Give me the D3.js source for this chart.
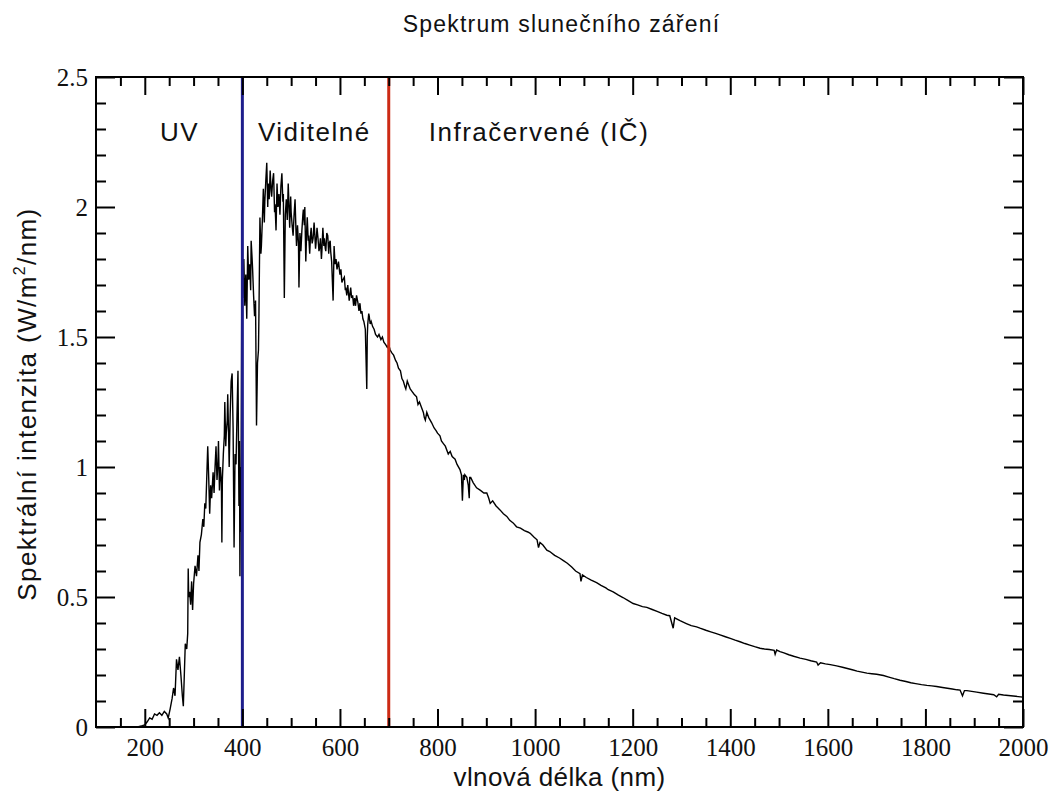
<!DOCTYPE html>
<html>
<head>
<meta charset="utf-8">
<script src="https://cdn.jsdelivr.net/npm/d3@7"></script>
<style>
  html, body { margin: 0; padding: 0; background: #fff; }
  svg { display: block; }
</style>
</head>
<body>
<svg id="chart" width="1056" height="794"></svg>
<script>
// ---------------- DATA ----------------
const titleText = "Spektrum slunečního záření";
const xAxisLabel = "vlnová délka (nm)";
const yAxisLabelMain = "Spektrální intenzita (W/m";
const yAxisLabelSup = "2";
const yAxisLabelEnd = "/nm)";

const xTickValues = [200, 400, 600, 800, 1000, 1200, 1400, 1600, 1800, 2000];
const xTickLabels = ["200", "400", "600", "800", "1000", "1200", "1400", "1600", "1800", "2000"];
const yTickValues = [0, 0.5, 1, 1.5, 2, 2.5];
const yTickLabels = ["0", "0.5", "1", "1.5", "2", "2.5"];

const regionNames = ["UV", "Viditelné", "Infračervené (IČ)"];
const regionLabelStart = [231, 432, 782];   // wavelength (nm) where each label starts
const regionBoundaries = [400, 700];        // nm

const wavelength = [
185,195,200,205,210,215,220,225,230,235,240,245,248,252,256,259,262,265,268,271,274,277,279,281,283,286,288,289,290,292,294,296,298,300,
303,306,309,311,313,316,319,321,323,325,327,329,331,333,335,337,340,342,344,346,348,350,351,353,355,357,358,359,361,363,364,366,367,369,
370,372,373,375,377,379,381,383,385,387,389,391,393,394,395,396,397,
399,401,402,403,405,407,409,411,413,415,417,418,420,421,423,425,427,429,431,433,434,436,438,439,441,443,445,446,448,450,452,453,455,457,
459,460,462,464,466,467,469,471,473,475,477,479,481,483,484,486,488,490,492,494,496,497,499,500,502,504,506,508,510,511,513,515,516,518,
520,522,524,525,527,528,530,532,533,535,536,538,540,541,543,545,547,548,550,551,553,555,557,558,560,562,563,565,567,568,570,571,573,575,
577,578,580,581,583,586,588,590,592,594,597,600,602,604,606,609,611,612,614,616,619,622,624,626,628,630,632,634,637,639,641,643,645,647,
649,652,655,656,657,659,660,662,664,667,670,673,677,680,684,687,690,694,697,700,703,706,710,714,717,720,724,727,730,733,735,738,740,744,
748,752,757,760,763,767,771,773,775,778,782,788,793,797,800,805,808,812,816,822,826,830,836,840,846,849,851,853,855,856,860,863,865,866,
868,873,880,888,895,901,905,908,913,920,928,935,942,948,955,962,970,978,985,990,998,1004,1007,1010,1016,1024,1030,1040,1050,1058,1066,
1075,1083,1092,1094,1097,1105,1115,1126,1135,1145,1150,1160,1170,1180,1190,1201,1210,1220,1229,1240,1250,1260,1270,1276,1283,1286,1297,
1310,1320,1331,1338,1350,1360,1370,1379,1390,1400,1410,1420,1430,1440,1450,1461,1470,1480,1490,1492,1495,1502,1510,1520,1530,1543,1555,
1565,1577,1580,1585,1595,1605,1618,1630,1640,1650,1660,1670,1680,1690,1700,1714,1725,1736,1748,1760,1770,1780,1792,1803,1813,1823,1835,
1845,1855,1865,1871,1876,1880,1885,1895,1905,1919,1930,1940,1946,1950,1960,1970,1980,1990,2000
];

const intensity = [
0,0.005,0.008,0.02,0.035,0.03,0.05,0.045,0.055,0.045,0.06,0.05,0.035,0.07,0.11,0.15,0.12,0.26,0.22,0.27,0.2,0.12,0.08,0.2,0.32,0.3,0.36,0.61,0.5,0.52,0.47,0.56,0.45,0.55,
0.62,0.58,0.66,0.6,0.71,0.74,0.8,0.77,0.86,0.84,0.96,1.08,0.96,0.82,0.93,0.88,0.98,0.9,1.0,1.08,0.95,1.02,1.1,0.91,1.0,0.94,0.71,0.95,1.05,1.12,1.25,1.08,1.13,1.18,
1.28,1.1,1.0,1.2,1.33,1.36,1.15,0.69,1.05,1.01,1.2,1.37,0.85,1.1,0.58,1.0,0.75,
1.78,1.65,1.71,1.8,1.62,1.74,1.57,1.85,1.72,1.78,1.68,1.87,1.8,1.76,1.66,1.58,1.64,1.16,1.4,1.45,1.59,1.96,1.82,1.85,1.95,2.07,1.94,2.02,2.1,2.17,2.0,2.09,2.03,2.14,
2.06,2.04,2.1,2.13,1.98,2.01,1.91,2.09,2.0,2.05,1.97,2.08,2.13,2.02,2.05,1.65,1.97,2.03,1.95,2.09,1.98,1.92,2.04,1.98,1.93,1.89,1.97,2.03,1.9,1.85,1.93,1.86,1.69,1.9,
1.83,1.91,1.97,1.99,1.93,2.0,1.79,1.92,1.96,1.87,1.89,1.82,1.9,1.92,1.86,1.88,1.94,1.91,1.84,1.86,1.92,1.88,1.83,1.84,1.88,1.8,1.83,1.92,1.85,1.88,1.84,1.83,1.9,1.89,
1.82,1.86,1.87,1.83,1.79,1.64,1.85,1.78,1.80,1.76,1.79,1.74,1.76,1.71,1.72,1.73,1.68,1.69,1.66,1.70,1.64,1.69,1.65,1.66,1.62,1.65,1.62,1.66,1.63,1.60,1.63,1.59,1.60,1.57,
1.56,1.53,1.30,1.50,1.55,1.59,1.58,1.55,1.56,1.54,1.53,1.51,1.50,1.51,1.49,1.50,1.48,1.47,1.46,1.47,1.45,1.44,1.43,1.41,1.40,1.38,1.37,1.34,1.33,1.31,1.30,1.33,1.32,1.30,
1.29,1.28,1.27,1.24,1.25,1.23,1.21,1.19,1.18,1.21,1.19,1.17,1.15,1.14,1.13,1.12,1.10,1.09,1.08,1.05,1.06,1.04,1.03,1.01,0.99,0.97,0.87,0.97,0.95,0.97,0.96,0.93,0.88,0.96,
0.96,0.94,0.92,0.91,0.90,0.90,0.88,0.86,0.87,0.85,0.835,0.82,0.81,0.795,0.785,0.77,0.765,0.755,0.75,0.745,0.73,0.72,0.69,0.71,0.70,0.68,0.675,0.66,0.65,0.64,0.63,
0.615,0.60,0.59,0.56,0.585,0.575,0.565,0.555,0.545,0.535,0.528,0.52,0.508,0.498,0.487,0.475,0.47,0.463,0.46,0.452,0.445,0.437,0.43,0.428,0.38,0.42,0.409,
0.398,0.39,0.385,0.38,0.372,0.366,0.36,0.354,0.347,0.341,0.334,0.328,0.321,0.315,0.309,0.303,0.3,0.298,0.295,0.28,0.296,0.29,0.285,0.278,0.272,0.265,0.26,
0.255,0.25,0.238,0.247,0.243,0.24,0.235,0.23,0.225,0.22,0.215,0.211,0.207,0.205,0.203,0.198,0.192,0.186,0.18,0.175,0.17,0.167,0.163,0.16,0.158,0.156,0.152,
0.149,0.146,0.143,0.142,0.12,0.14,0.14,0.137,0.134,0.13,0.127,0.124,0.116,0.126,0.123,0.121,0.119,0.117,0.115
];

// ---------------- LAYOUT ----------------
const svg = d3.select("#chart");
const W = 1056, H = 794;
const plot = { left: 96, right: 1023, top: 77, bottom: 727 };

const x = d3.scaleLinear().domain([100, 2000]).range([plot.left, plot.right]);
const y = d3.scaleLinear().domain([0, 2.5]).range([plot.bottom, plot.top]);

svg.append("rect").attr("width", W).attr("height", H).attr("fill", "#fff");

svg.append("clipPath").attr("id", "clip")
  .append("rect")
  .attr("x", plot.left).attr("y", plot.top)
  .attr("width", plot.right - plot.left).attr("height", plot.bottom - plot.top);

// Spectrum line
const pts = wavelength.map((w, i) => [w, intensity[i]]);
svg.append("path")
  .datum(pts)
  .attr("clip-path", "url(#clip)")
  .attr("fill", "none")
  .attr("stroke", "#000")
  .attr("stroke-width", 1.4)
  .attr("stroke-linejoin", "miter")
  .attr("d", d3.line().x(d => x(d[0])).y(d => y(d[1])));

// Region boundary lines
const boundaryColors = ["#1e1e8c", "#cc2a14"];
regionBoundaries.forEach((b, i) => {
  svg.append("line")
    .attr("x1", x(b)).attr("x2", x(b))
    .attr("y1", plot.top).attr("y2", plot.bottom)
    .attr("stroke", boundaryColors[i])
    .attr("stroke-width", 3);
});

// Axes (ticks pointing inward on all sides)
const xMinor = d3.range(150, 2000, 50).filter(v => v % 200 !== 0);
const yMinor = d3.range(1, 25).map(v => v / 10).filter(v => Math.round(v * 10) % 5 !== 0);

const tickFontSerif = "'Liberation Serif', 'Times New Roman', serif";

function styleAxis(g) {
  g.select(".domain").remove();
  g.selectAll("line").attr("stroke", "#000").attr("stroke-width", 2);
  g.selectAll("text")
    .attr("font-family", tickFontSerif)
    .attr("font-size", 25)
    .attr("fill", "#111");
}

// bottom
svg.append("g").attr("transform", `translate(0,${plot.bottom})`)
  .call(d3.axisBottom(x).tickValues(xTickValues).tickSizeInner(-18).tickSizeOuter(0).tickPadding(11)
    .tickFormat((d, i) => xTickLabels[i]))
  .call(styleAxis);
svg.append("g").attr("transform", `translate(0,${plot.bottom})`)
  .call(d3.axisBottom(x).tickValues(xMinor).tickSizeInner(-9).tickSizeOuter(0).tickFormat(""))
  .call(styleAxis);
// top
svg.append("g").attr("transform", `translate(0,${plot.top})`)
  .call(d3.axisTop(x).tickValues(xTickValues).tickSizeInner(-18).tickSizeOuter(0).tickFormat(""))
  .call(styleAxis);
svg.append("g").attr("transform", `translate(0,${plot.top})`)
  .call(d3.axisTop(x).tickValues(xMinor).tickSizeInner(-9).tickSizeOuter(0).tickFormat(""))
  .call(styleAxis);
// left
svg.append("g").attr("transform", `translate(${plot.left},0)`)
  .call(d3.axisLeft(y).tickValues(yTickValues).tickSizeInner(-19).tickSizeOuter(0).tickPadding(8)
    .tickFormat((d, i) => yTickLabels[i]))
  .call(styleAxis);
svg.append("g").attr("transform", `translate(${plot.left},0)`)
  .call(d3.axisLeft(y).tickValues(yMinor).tickSizeInner(-10).tickSizeOuter(0).tickFormat(""))
  .call(styleAxis);
// right
svg.append("g").attr("transform", `translate(${plot.right},0)`)
  .call(d3.axisRight(y).tickValues(yTickValues).tickSizeInner(-19).tickSizeOuter(0).tickFormat(""))
  .call(styleAxis);
svg.append("g").attr("transform", `translate(${plot.right},0)`)
  .call(d3.axisRight(y).tickValues(yMinor).tickSizeInner(-10).tickSizeOuter(0).tickFormat(""))
  .call(styleAxis);

// Frame
svg.append("rect")
  .attr("x", plot.left).attr("y", plot.top)
  .attr("width", plot.right - plot.left).attr("height", plot.bottom - plot.top)
  .attr("fill", "none").attr("stroke", "#000").attr("stroke-width", 2);

// Text
const sans = "'Liberation Sans', Arial, Helvetica, sans-serif";

svg.append("text")
  .attr("x", (plot.left + plot.right) / 2 + 2).attr("y", 32)
  .attr("text-anchor", "middle")
  .attr("font-family", sans).attr("font-size", 23)
  .attr("letter-spacing", "1.2px")
  .attr("fill", "#111")
  .text(titleText);

regionNames.forEach((n, i) => {
  svg.append("text")
    .attr("x", x(regionLabelStart[i])).attr("y", 141)
    .attr("font-family", sans).attr("font-size", 26)
    .attr("letter-spacing", "1.5px")
    .attr("fill", "#111")
    .text(n);
});

svg.append("text")
  .attr("x", (plot.left + plot.right) / 2).attr("y", 786)
  .attr("text-anchor", "middle")
  .attr("font-family", sans).attr("font-size", 26)
  .attr("letter-spacing", "0.4px")
  .attr("fill", "#111")
  .text(xAxisLabel);

const yl = svg.append("text")
  .attr("transform", "translate(36,404) rotate(-90)")
  .attr("text-anchor", "middle")
  .attr("font-family", sans).attr("font-size", 26)
  .attr("letter-spacing", "1.4px")
  .attr("fill", "#111");
yl.append("tspan").text(yAxisLabelMain);
yl.append("tspan").attr("font-size", 16).attr("dy", -11).text(yAxisLabelSup);
yl.append("tspan").attr("dy", 11).text(yAxisLabelEnd);
</script>
</body>
</html>
